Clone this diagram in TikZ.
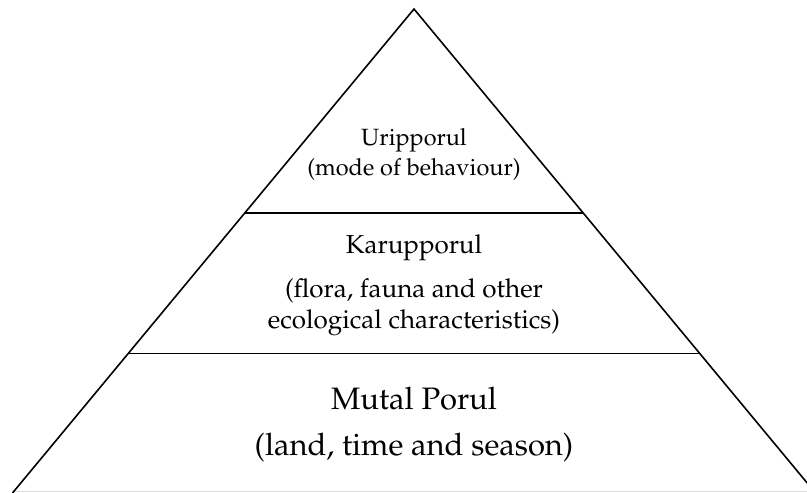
\documentclass[tikz,border=0pt]{standalone}
\usepackage[T1]{fontenc}
\usepackage{mathpazo}
\newcommand\szA{\fontsize{23.5}{28}\selectfont}
\newcommand\szB{\fontsize{26}{30}\selectfont}
\newcommand\szC{\fontsize{31}{36}\selectfont}
\begin{document}
\begin{tikzpicture}[x=1pt,y=-1pt,
  leg/.style={line width=1.6pt, line join=miter},
  tier/.style={line width=1.8pt},
  lbl/.style={anchor=base, inner sep=0pt}]
\useasboundingbox (0,0) rectangle (807,493);
\clip (0,0) rectangle (807,493);
\coordinate (apex) at (414,9);
\coordinate (bl) at (12.5,493);
\coordinate (br) at (815.5,493);
\coordinate (a1) at (245,213);
\coordinate (a2) at (583,213);
\coordinate (b1) at (128.6,353.5);
\coordinate (b2) at (699.4,353.5);
\coordinate (g1) at (13,491.5);
\coordinate (g2) at (807,491.5);
\draw[gray!25, line width=1pt] (g1) -- (g2);
\draw[leg] (bl) -- (apex) -- (br);
\draw[tier] (a1) -- (a2);
\draw[tier] (b1) -- (b2);
\node[lbl, font=\szA] (t1) at (414,145.5) {Uripporul};
\node[lbl, font=\szA] (t2) at (414,175.5) {(mode of behaviour)};
\node[lbl, font=\szB] (m1) at (414,253) {Karupporul};
\node[lbl, font=\szB] (m2) at (414,297.5) {(flora, fauna and other};
\node[lbl, font=\szB] (m3) at (414,328) {ecological characteristics)};
\node[lbl, font=\szC] (b1t) at (414,409) {Mutal Porul};
\node[lbl, font=\szC] (b2t) at (414,455) {(land, time and season)};
\end{tikzpicture}
\end{document}
